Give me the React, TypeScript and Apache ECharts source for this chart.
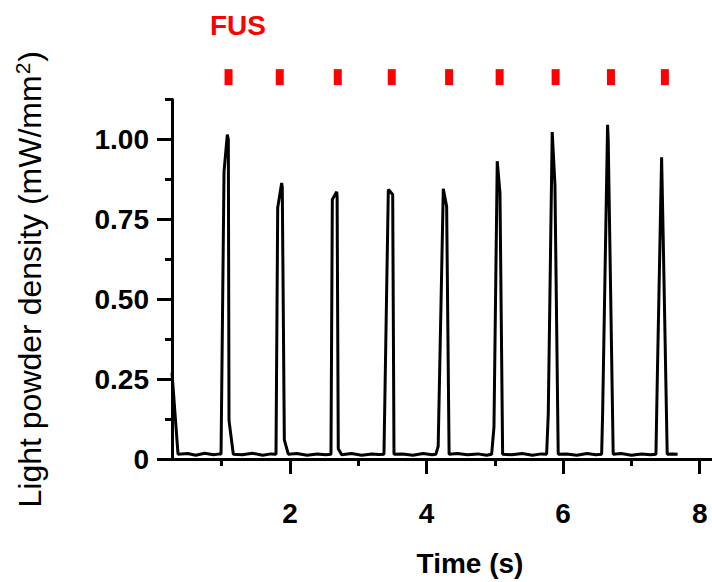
import React, { useEffect, useRef } from 'react';
import * as echarts from 'echarts';

// Trace of light power density over time (s, mW/mm²)
const traceTime = [
  0.272, 0.36, 0.5, 0.62, 0.75, 0.88, 0.97,
  0.99, 1.034, 1.082, 1.097, 1.107, 1.17,
  1.3, 1.45, 1.6, 1.72,
  1.795, 1.82, 1.878, 1.887, 1.917, 1.975,
  2.1, 2.25, 2.4, 2.52,
  2.6, 2.62, 2.684, 2.69, 2.707, 2.757,
  2.9, 3.05, 3.2, 3.3,
  3.376, 3.44, 3.504, 3.523,
  3.65, 3.8, 3.95, 4.08,
  4.137, 4.17, 4.245, 4.294, 4.33,
  4.45, 4.6, 4.75, 4.88,
  4.953, 4.987, 5.035, 5.075, 5.114,
  5.25, 5.4, 5.55, 5.68,
  5.758, 5.782, 5.84, 5.88, 5.928,
  6.05, 6.2, 6.35, 6.48,
  6.564, 6.578, 6.651, 6.66, 6.733,
  6.85, 7.0, 7.15, 7.28,
  7.359, 7.378, 7.442, 7.466, 7.524,
  7.6, 7.676,
];
const traceValue = [
  0.27, 0.015, 0.017, 0.012, 0.018, 0.013, 0.016,
  0.015, 0.9, 1.015, 1.0, 0.12, 0.015,
  0.013, 0.018, 0.012, 0.016,
  0.015, 0.786, 0.864, 0.85, 0.06, 0.015,
  0.017, 0.012, 0.016, 0.013,
  0.015, 0.812, 0.836, 0.82, 0.032, 0.013,
  0.017, 0.012, 0.016, 0.014,
  0.015, 0.843, 0.828, 0.015,
  0.016, 0.012, 0.017, 0.013,
  0.015, 0.04, 0.846, 0.79, 0.015,
  0.017, 0.013, 0.016, 0.012,
  0.015, 0.1, 0.932, 0.833, 0.015,
  0.013, 0.017, 0.012, 0.016,
  0.015, 0.14, 1.023, 0.858, 0.015,
  0.016, 0.012, 0.017, 0.013,
  0.015, 0.14, 1.046, 1.0, 0.015,
  0.017, 0.012, 0.016, 0.013,
  0.015, 0.24, 0.944, 0.685, 0.015,
  0.016, 0.015,
];

// FUS pulse onsets (s)
const fusPulseTimes = [1.1, 1.85, 2.7, 3.49, 4.33, 5.07, 5.89, 6.7, 7.49];

const yMajorTicks = [0, 0.25, 0.5, 0.75, 1.0];
const yMinorTicks = [0.125, 0.375, 0.625, 0.875, 1.125];
const xMajorTicks = [2, 4, 6, 8];
const xMinorTicks = [1, 3, 5, 7];

const X_MIN = 0.272;
const X_MAX = 8.18;
const Y_MIN = 0;
const Y_MAX = 1.125;
const FUS_MARK_LEVEL = 1.195;

const FONT = '"Liberation Sans", Arial, sans-serif';

export default function App() {
  const ref = useRef<HTMLDivElement>(null);

  useEffect(() => {
    if (!ref.current) return;
    const chart = echarts.init(ref.current, undefined, { renderer: 'svg' });
    const labelStyle = { color: '#000', fontSize: 28, fontWeight: 'bold' as const, fontFamily: FONT };
    const axisLineStyle = { color: '#000', width: 3 };

    chart.setOption({
      animation: false,
      backgroundColor: '#fff',
      grid: { left: 172, right: 0, top: 99.5, bottom: 116.5, containLabel: false },
      graphic: [
        {
          type: 'text',
          left: 210,
          top: 11,
          style: { text: 'FUS', fill: '#ff0000', font: `bold 28px ${FONT}` },
        },
      ],
      xAxis: [
        {
          type: 'value',
          min: X_MIN,
          max: X_MAX,
          position: 'bottom',
          axisLine: { show: true, lineStyle: axisLineStyle },
          axisTick: { show: true, customValues: xMajorTicks, length: 15, lineStyle: axisLineStyle },
          axisLabel: { show: true, customValues: xMajorTicks, margin: 40, ...labelStyle },
          splitLine: { show: false },
          name: 'Time (s)',
          nameLocation: 'middle',
          nameGap: 90,
          nameTextStyle: { ...labelStyle, padding: [0, 0, 0, 56] },
        },
        {
          type: 'value',
          min: X_MIN,
          max: X_MAX,
          position: 'bottom',
          axisLine: { show: false },
          axisTick: { show: true, customValues: xMinorTicks, length: 7, lineStyle: axisLineStyle },
          axisLabel: { show: false },
          splitLine: { show: false },
        },
      ],
      yAxis: [
        {
          type: 'value',
          min: Y_MIN,
          max: Y_MAX,
          position: 'left',
          axisLine: { show: true, lineStyle: axisLineStyle },
          axisTick: { show: true, customValues: yMajorTicks, length: 15, lineStyle: axisLineStyle },
          axisLabel: {
            show: true,
            customValues: yMajorTicks,
            margin: 23,
            formatter: (v: number) => (v === 0 ? '0' : v.toFixed(2)),
            ...labelStyle,
          },
          splitLine: { show: false },
          name: '{a|Light powder density (mW/mm}{s|2}{a|)}',
          nameLocation: 'middle',
          nameRotate: 90,
          nameGap: 124,
          nameTextStyle: {
            color: '#000',
            fontSize: 32,
            fontWeight: 'normal',
            fontFamily: FONT,
            rich: {
              a: { color: '#000', fontSize: 32, fontFamily: FONT, lineHeight: 36 },
              s: { color: '#000', fontSize: 21, fontFamily: FONT, lineHeight: 36, verticalAlign: 'top', padding: [0, 1, 14, 1] },
            },
          },
        },
        {
          type: 'value',
          min: Y_MIN,
          max: Y_MAX,
          position: 'left',
          axisLine: { show: false },
          axisTick: { show: true, customValues: yMinorTicks, length: 7, lineStyle: axisLineStyle },
          axisLabel: { show: false },
          splitLine: { show: false },
        },
      ],
      series: [
        {
          type: 'line',
          xAxisIndex: 0,
          yAxisIndex: 0,
          data: traceTime.map((t, i) => [t, traceValue[i]]),
          showSymbol: false,
          symbol: 'none',
          lineStyle: { color: '#000', width: 3 },
          silent: true,
        },
        {
          type: 'scatter',
          xAxisIndex: 0,
          yAxisIndex: 0,
          clip: false,
          data: fusPulseTimes.map((t) => [t, FUS_MARK_LEVEL]),
          symbol: 'rect',
          symbolSize: [8, 16],
          itemStyle: { color: '#ff0000', opacity: 1 },
          silent: true,
        },
      ],
    });

    return () => chart.dispose();
  }, []);

  return <div ref={ref} style={{ position: 'absolute', left: 0, top: 0, width: 712, height: 582 }} />;
}
